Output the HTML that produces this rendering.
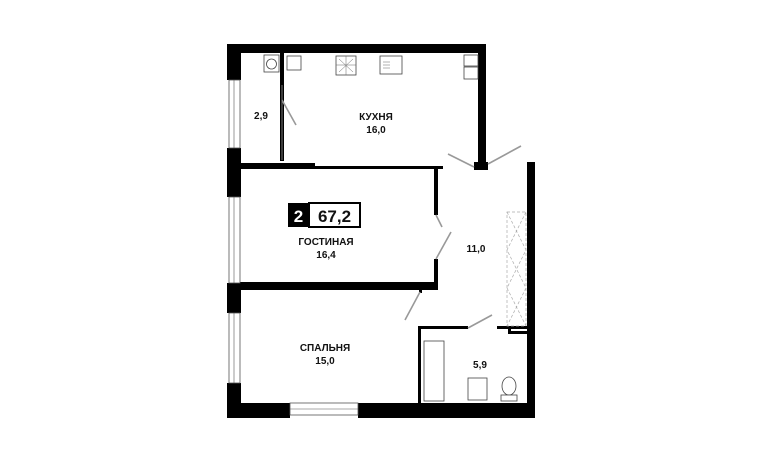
<!DOCTYPE html>
<html><head><meta charset="utf-8"><style>
html,body{margin:0;padding:0;background:#fff;}
svg{display:block}
text{font-family:"Liberation Sans",sans-serif;font-weight:bold;fill:#111}
</style></head><body>
<svg width="762" height="463" viewBox="0 0 762 463" xmlns="http://www.w3.org/2000/svg">
<rect width="762" height="463" fill="#fff"/>
<g fill="#000">
<!-- top wall -->
<rect x="227" y="44" width="259" height="9"/>
<!-- kitchen right wall -->
<rect x="478" y="44" width="8" height="126"/>
<rect x="474" y="162" width="14" height="8"/>
<!-- left wall blocks -->
<rect x="227" y="44" width="14" height="36"/>
<rect x="227" y="148" width="14" height="49"/>
<rect x="227" y="283" width="14" height="30"/>
<rect x="227" y="383" width="14" height="35"/>
<!-- bottom wall -->
<rect x="227" y="403" width="63" height="15"/>
<rect x="358" y="403" width="177" height="15"/>
<!-- right hall wall -->
<rect x="527" y="162" width="8" height="256"/>
<!-- kitchen bottom partition -->
<rect x="240" y="163" width="75" height="6"/>
<rect x="315" y="166" width="128" height="3"/>
<!-- 2.9 partition -->
<rect x="280" y="53" width="4" height="108"/>
<!-- living right partition -->
<rect x="434" y="166" width="4" height="49"/>
<rect x="434" y="259" width="4" height="31"/>
<!-- living/bed partition -->
<rect x="240" y="282" width="198" height="8"/>
<rect x="419" y="289" width="3" height="4"/>
<!-- bath walls -->
<rect x="418" y="326" width="50" height="3"/>
<rect x="497" y="326" width="31" height="3"/>
<rect x="418" y="326" width="3" height="80"/>
<rect x="508" y="326" width="3" height="8"/>
<rect x="508" y="331" width="20" height="3"/>
</g>
<!-- windows -->
<g fill="#fff" stroke="#555" stroke-width="0.8">
<rect x="229" y="80" width="11" height="68"/>
<rect x="229" y="197" width="11" height="86"/>
<rect x="229" y="313" width="11" height="70"/>
<rect x="290" y="403" width="68" height="12"/>
</g>
<g stroke="#555" stroke-width="0.6">
<line x1="234" y1="80" x2="234" y2="148"/><line x1="234" y1="197" x2="234" y2="283"/><line x1="234" y1="313" x2="234" y2="383"/>
<line x1="290" y1="409" x2="358" y2="409"/>
</g>
<!-- doors -->
<g stroke="#999" stroke-width="1.6">
<line x1="282" y1="100" x2="296" y2="125"/>
<line x1="474" y1="167" x2="448" y2="154"/>
<line x1="488" y1="164" x2="521" y2="146"/>
<line x1="436" y1="215" x2="442" y2="227"/>
<line x1="436" y1="259" x2="451" y2="232"/>
<line x1="420" y1="292" x2="405" y2="320"/>
<line x1="468" y1="328" x2="492" y2="315"/>
</g>
<line x1="282" y1="85" x2="282" y2="160" stroke="#777" stroke-width="1"/>
<!-- wardrobe -->
<g fill="none" stroke="#aaa" stroke-width="0.7" stroke-dasharray="3,2">
<rect x="507" y="212" width="19" height="114"/>
<path d="M507 212 L526 250 L507 288 L526 326 M526 212 L507 250 L526 288 L507 326"/>
</g>
<!-- fixtures -->
<g fill="#fff" stroke="#444" stroke-width="0.8">
<rect x="264" y="55" width="15" height="17"/>
<circle cx="271.5" cy="64" r="5"/>
<rect x="287" y="56" width="14" height="14"/>
<rect x="336" y="56" width="20" height="19"/>
<rect x="380" y="56" width="22" height="18"/>
<rect x="464" y="55" width="14" height="11"/>
<rect x="464" y="67" width="14" height="12"/>
<rect x="424" y="341" width="20" height="60"/>
<rect x="468" y="378" width="19" height="22"/>
<ellipse cx="509" cy="386" rx="7" ry="9"/>
<rect x="501" y="395" width="16" height="6"/>
</g>
<g stroke="#666" stroke-width="0.5" fill="none">
<path d="M339 59 L353 72 M353 59 L339 72 M346 56 L346 75 M336 65 L356 65"/>
<path d="M383 62 L390 62 M383 65 L390 65 M383 68 L390 68"/>
</g>
<!-- badge -->
<rect x="288" y="203" width="21" height="24" fill="#000"/>
<rect x="309" y="203" width="51" height="24" fill="#fff" stroke="#000" stroke-width="2"/>
<text x="298.5" y="222" font-size="17" text-anchor="middle" style="fill:#fff">2</text>
<text x="334.5" y="222" font-size="17" text-anchor="middle">67,2</text>
<!-- labels -->
<g font-size="10" text-anchor="middle">
<text x="261" y="119">2,9</text>
<text x="376" y="120">КУХНЯ</text><text x="376" y="133">16,0</text>
<text x="326" y="245">ГОСТИНАЯ</text><text x="326" y="258">16,4</text>
<text x="476" y="252">11,0</text>
<text x="325" y="351">СПАЛЬНЯ</text><text x="325" y="364">15,0</text>
<text x="480" y="368">5,9</text>
</g>
</svg>
</body></html>
